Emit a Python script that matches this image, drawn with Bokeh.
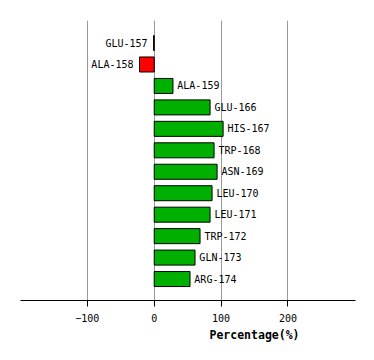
from bokeh.plotting import figure
from bokeh.models import Range1d, FixedTicker, ColumnDataSource, Title
from bokeh.core.properties import value
from bokeh.embed import file_html
from bokeh.resources import INLINE

residues = ["GLU-157", "ALA-158", "ALA-159", "GLU-166", "HIS-167", "TRP-168",
            "ASN-169", "LEU-170", "LEU-171", "TRP-172", "GLN-173", "ARG-174"]
percent = [-1, -22, 28, 83.5, 103, 89.5, 94, 86.5, 83.5, 68.5, 61, 53.5]
x_ticks = [-100, 0, 100, 200]

ypos = list(range(len(residues)))
colors = ["#FF0000" if v < 0 else "#00B000" for v in percent]
aligns = ["left" if v >= 0 else "right" for v in percent]
label_x = [v + 6.5 if v > 0 else min(v, 0) - 9 for v in percent]

src = ColumnDataSource(dict(y=ypos, right=percent, color=colors, name=residues,
                            lx=label_x, align=aligns))

p = figure(width=374, height=360, output_backend="svg", toolbar_location=None,
           x_range=Range1d(-200, 301), y_range=Range1d(12, -1.05),
           y_axis_location=None, min_border_left=20, min_border_right=19,
           min_border_top=20, min_border_bottom=60)
p.outline_line_color = None
p.background_fill_color = "white"
p.border_fill_color = "white"
p.ygrid.visible = False
p.xgrid.ticker = FixedTicker(ticks=x_ticks)
p.xgrid.grid_line_color = "#999999"
p.xgrid.grid_line_width = 1

p.hbar(y="y", left=0, right="right", height=0.7, fill_color="color",
       line_color="black", line_width=1, source=src)

p.text(x="lx", y="y", text="name", text_align="align", text_baseline="middle",
       text_font=value("DejaVu Sans Mono"), text_font_size="10px",
       text_color="black", source=src)

ax = p.xaxis[0]
ax.ticker = FixedTicker(ticks=x_ticks)
ax.minor_tick_line_color = None
ax.major_tick_out = 6
ax.major_tick_in = 0
ax.axis_line_color = "black"
ax.major_tick_line_color = "black"
ax.major_label_text_font = "DejaVu Sans Mono"
ax.major_label_text_font_size = "10px"
ax.major_label_text_color = "black"
ax.major_label_standoff = 7

p.add_layout(Title(text="Percentage(%)", align="left", offset=189,
                   text_font="DejaVu Sans Mono", text_font_size="11.5px",
                   text_font_style="bold", text_color="black", standoff=3),
             "below")

open("out.html", "w").write(file_html(p, INLINE))
